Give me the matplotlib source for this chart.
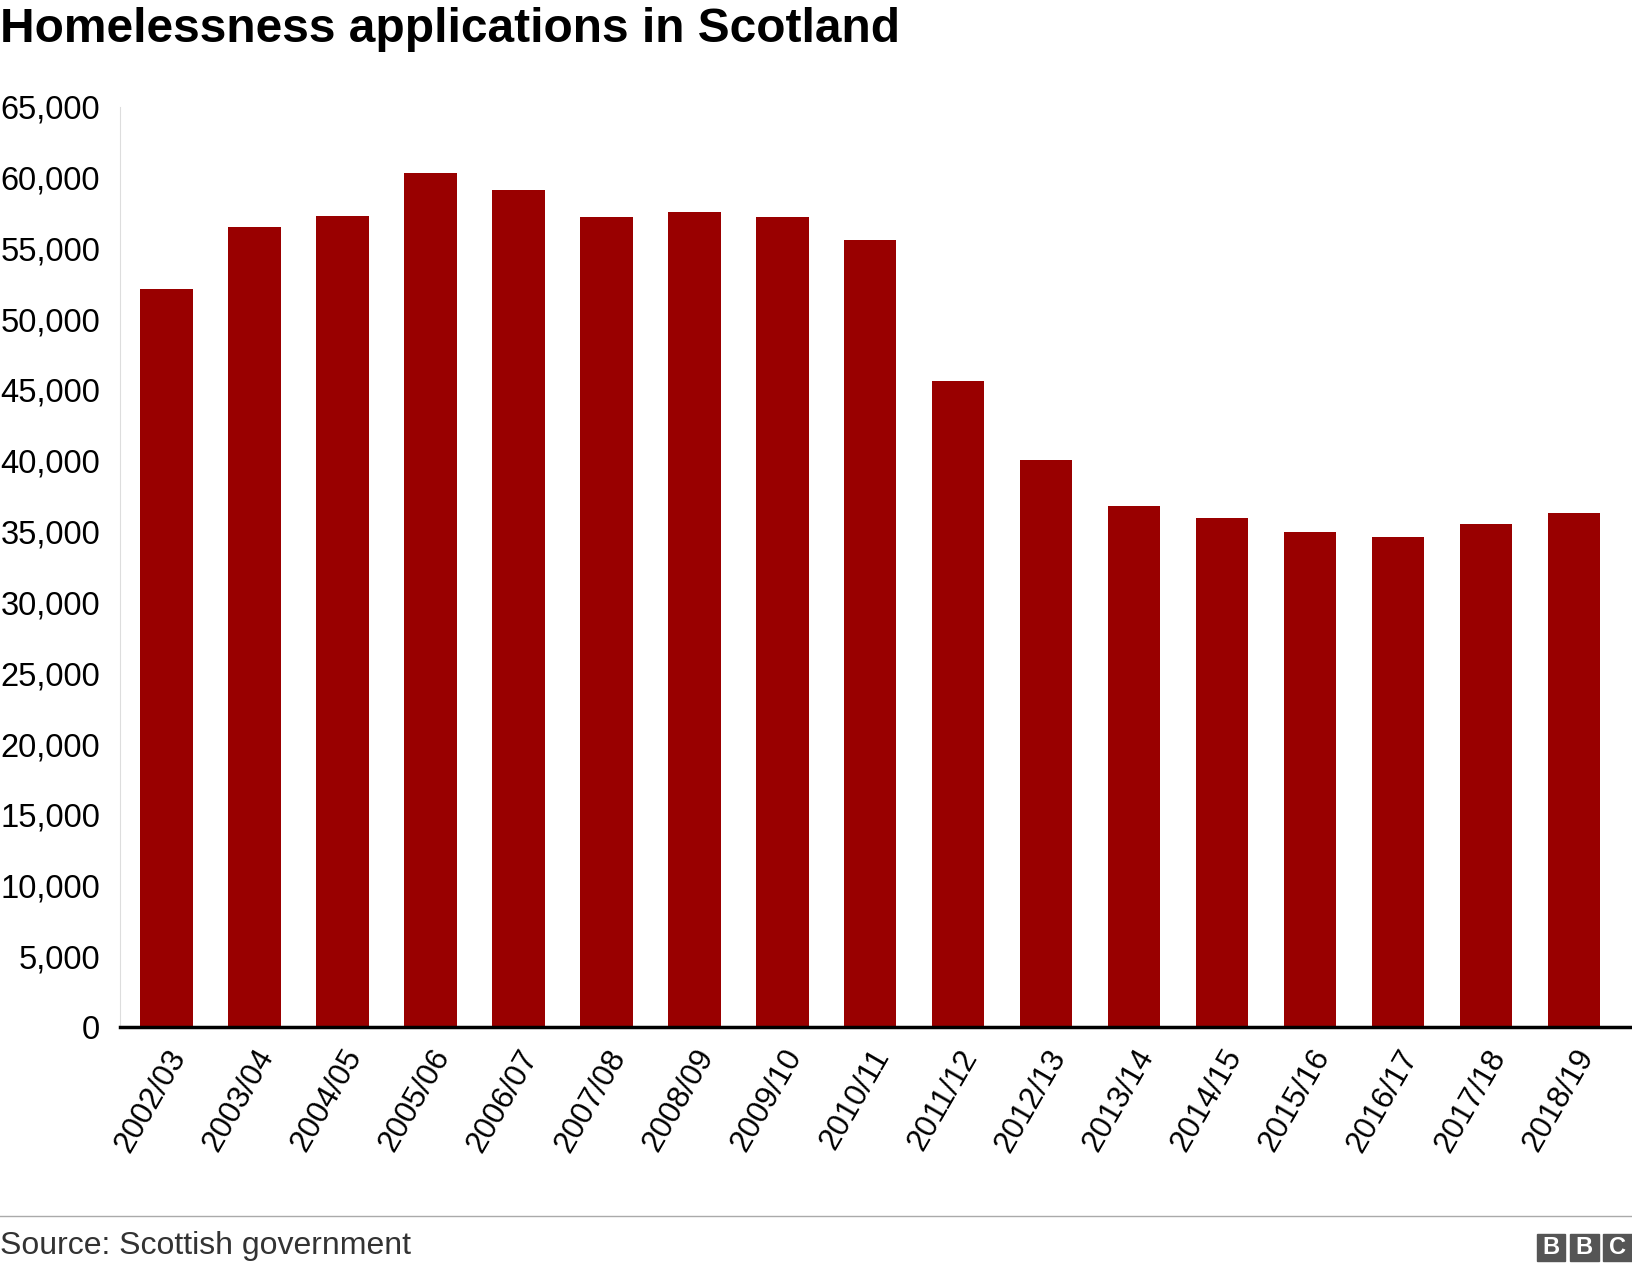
import matplotlib
matplotlib.use("Agg")
import matplotlib.pyplot as plt
from matplotlib.patches import Rectangle

categories = ["2002/03","2003/04","2004/05","2005/06","2006/07","2007/08","2008/09","2009/10",
              "2010/11","2011/12","2012/13","2013/14","2014/15","2015/16","2016/17","2017/18","2018/19"]
values = [52100, 56500, 57300, 60300, 59100, 57200, 57600, 57200, 55600, 45600, 40050, 36800,
          35950, 34950, 34650, 35550, 36350]
yticks = list(range(0, 65001, 5000))

plt.rcParams["font.family"] = "Liberation Sans"
fig = plt.figure(figsize=(16.32, 12.70), dpi=100)
ax = fig.add_axes([0.0733, 0.191, 0.9267, 0.725])
ax.bar(range(len(categories)), values, width=0.6, color="#990000", zorder=2)
ax.set_xlim(-0.53, len(categories) - 1 + 0.66)
ax.set_ylim(0, 65000)
ax.set_yticks(yticks)
ax.set_yticklabels([f"{v:,}" for v in yticks], fontsize=23.5)
ax.set_xticks(range(len(categories)))
ax.set_xticklabels(categories, rotation=60, ha="right", rotation_mode="anchor", fontsize=22.5)
for s in ["top", "right"]:
    ax.spines[s].set_visible(False)
ax.spines["left"].set_color("#dddddd")
ax.spines["bottom"].set_linewidth(2.5)
ax.spines["bottom"].set_color("black")
ax.tick_params(axis="y", length=0, pad=14)
ax.tick_params(axis="x", length=0, pad=12)

fig.text(0.0, 0.977, "Homelessness applications in Scotland", fontsize=34.5, fontweight="bold", va="center", ha="left")
fig.add_artist(plt.Line2D([0, 1], [0.0427, 0.0427], color="#aaaaaa", lw=1))
fig.text(0.0, 0.019, "Source: Scottish government", fontsize=23, color="#333333", va="center", ha="left")
# BBC logo
w, h, g = 0.0175, 0.0215, 0.003
x0 = 1 - 3 * w - 2 * g
for i, letter in enumerate("BBC"):
    x = x0 + i * (w + g)
    fig.add_artist(Rectangle((x, 0.007), w, h, color="#555555", transform=fig.transFigure))
    fig.text(x + w / 2, 0.007 + h / 2, letter, color="white", fontsize=17, fontweight="bold", ha="center", va="center")

fig.savefig("out.png", dpi=100)
